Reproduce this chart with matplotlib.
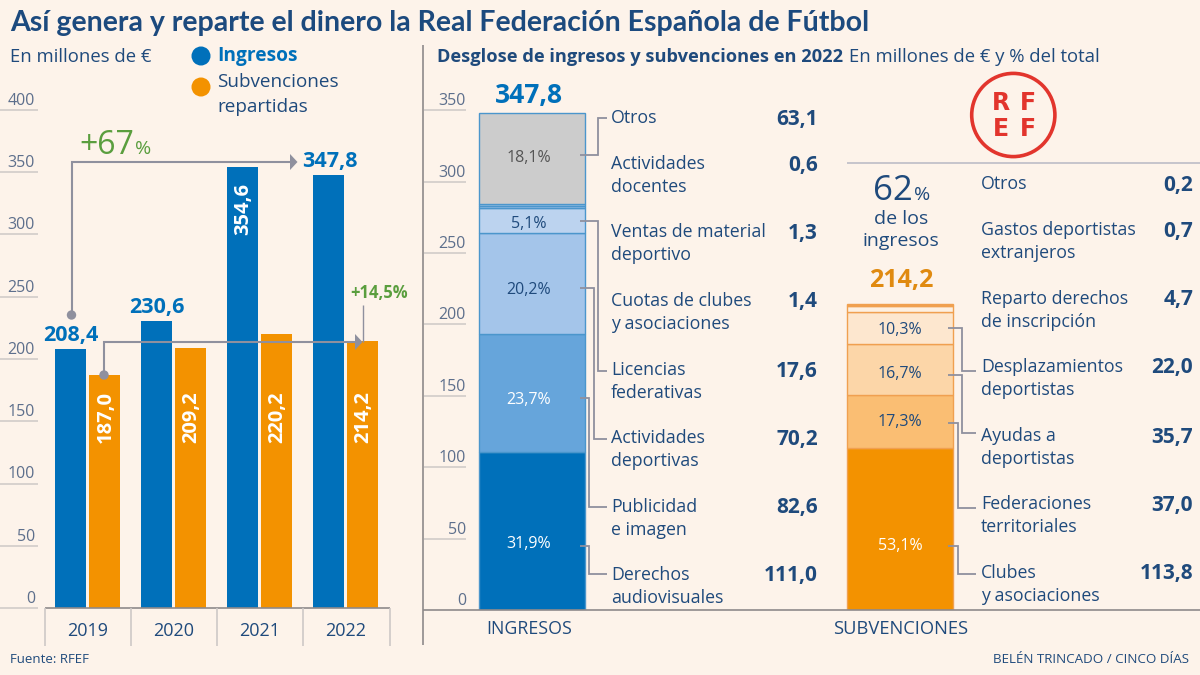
import matplotlib
matplotlib.use("Agg")
import matplotlib.pyplot as plt
from matplotlib.patches import Circle, Polygon
import numpy as np

plt.rcParams["font.family"] = ["Open Sans", "DejaVu Sans"]

# data
years = ["2019", "2020", "2021", "2022"]
ingresos = [208.4, 230.6, 354.6, 347.8]
subvenciones = [187.0, 209.2, 220.2, 214.2]
left_ticks = [0, 50, 100, 150, 200, 250, 300, 350, 400]
stack_ticks = [0, 50, 100, 150, 200, 250, 300, 350]

ing_names = ["Derechos\naudiovisuales", "Publicidad\ne imagen", "Actividades\ndeportivas",
             "Licencias\nfederativas", "Cuotas de clubes\ny asociaciones",
             "Ventas de material\ndeportivo", "Actividades\ndocentes", "Otros"]
ing_values = [111.0, 82.6, 70.2, 17.6, 1.4, 1.3, 0.6, 63.1]
ing_pct = ["31,9%", "23,7%", "20,2%", "5,1%", "18,1%"]

sub_names = ["Clubes\ny asociaciones", "Federaciones\nterritoriales", "Ayudas a\ndeportistas",
             "Desplazamientos\ndeportistas", "Reparto derechos\nde inscripción",
             "Gastos deportistas\nextranjeros", "Otros"]
sub_values = [113.8, 37.0, 35.7, 22.0, 4.7, 0.7, 0.2]
sub_pct = ["53,1%", "17,3%", "16,7%", "10,3%"]

# colours
BG = "#fdf3ea"
BLUE = "#0070ba"
ORANGE = "#f39200"
NAVY = "#1f4a7c"
TICK = "#5d6f8c"
GRID = "#cdc8c6"
ARROW = "#8f909e"
GREEN = "#5a9e3e"
RED = "#e2352d"
ing_colors = ["#0070ba", "#66a5db", "#a4c5ea", "#bcd3ef", "#a4c5ea", "#bcd3ef", "#a4c5ea", "#cccccc"]
sub_colors = ["#f39200", "#fabe73", "#fcd6a8", "#fde7cf", "#fdf0e2", "#fde7cf", "#fdf0e2"]

W, H = 1200, 675
L_ZERO, L_SCALE = 608.0, 1.245
S_ZERO, S_SCALE = 610.0, 1.4276

fig = plt.figure(figsize=(12, 6.75), dpi=100, facecolor=BG)


def px_axes(x0, x1, y_top, y_bottom):
    ax = fig.add_axes([x0 / W, 1 - y_bottom / H, (x1 - x0) / W, (y_bottom - y_top) / H])
    ax.axis("off")
    return ax


# yearly bars, one x unit is one year group (86 px)
ax = px_axes(0, 420, 100, L_ZERO)
ax.set_xlim(-87.5 / 86, (420 - 87.5) / 86)
ax.set_ylim(0, (L_ZERO - 100) / L_SCALE)
x = np.arange(len(years))
ax.bar(x - 0.198, ingresos, width=0.365, color=BLUE)
ax.bar(x + 0.198, subvenciones, width=0.365, color=ORANGE)

# stacked bars, one x unit is the gap between the two stacks (368 px)
ax2 = px_axes(424, 1200, 60, S_ZERO)
ax2.set_xlim((424 - 532) / 368, (1200 - 532) / 368)
ax2.set_ylim(0, (S_ZERO - 60) / S_SCALE)
for pos, vals, cols, edge in [(0, ing_values, ing_colors, "#4b96cc"),
                              (1, sub_values, sub_colors, "#f0a050")]:
    ax2.bar(pos, vals, bottom=np.cumsum([0] + vals[:-1]), width=106 / 368,
            color=cols, edgecolor=edge, linewidth=1)

# overlay in pixel coordinates for labels and leader lines
ov = fig.add_axes([0, 0, 1, 1], facecolor="none")
ov.set_xlim(0, W)
ov.set_ylim(H, 0)
ov.axis("off")


def txt(x, y, s, size=13.5, color=NAVY, ha="left", weight="normal", **kw):
    # va=center sits a bit high on this font
    return ov.text(x, y + 1.5, s, fontsize=size, color=color, ha=ha, va="center", fontweight=weight, **kw)


def block(x, y, s, size=12.8, gap=23):
    for i, row in enumerate(s.split("\n")):
        ov.text(x, y + 6 + gap * i, row, fontsize=size, color=NAVY, va="baseline")


def line(xs, ys, color=ARROW, lw=1.3):
    ov.plot(xs, ys, color=color, lw=lw, solid_joinstyle="miter", solid_capstyle="butt")


# header
txt(10, 21, "Así genera y reparte el dinero la Real Federación Española de Fútbol", size=20.5,
    weight="bold", color="#1c4a7e", family=["Lato", "DejaVu Sans"])
txt(10, 55, "En millones de €", size=13.3)
ov.add_patch(Circle((201, 56), 9.5, color=BLUE, lw=0))
ov.add_patch(Circle((201, 87), 9.5, color=ORANGE, lw=0))
txt(217, 55, "Ingresos", size=13.8, weight="bold", color=BLUE)
block(217, 81, "Subvenciones\nrepartidas", size=13.6, gap=25)
txt(437, 55, "Desglose de ingresos y subvenciones en 2022", size=13.15, weight="bold")
txt(849, 55, "En millones de € y % del total", size=13.3)

# frame lines
line([423, 423], [45, 645], color="#8e8a8a", lw=1.2)
line([423, 1200], [S_ZERO, S_ZERO], color="#8e8a8a", lw=1.2)
line([45, 389.5], [L_ZERO, L_ZERO], color="#8e8a8a", lw=1.2)
for i in range(len(years) + 1):
    tx = 44.8 + 86.2 * i
    line([tx, tx], [L_ZERO, 645.5], color=GRID, lw=1.2)
for i, yr in enumerate(years):
    txt(87.5 + 86 * i, 630, yr, size=13, ha="center")
txt(529, 628, "INGRESOS", size=12.8, ha="center")
txt(901, 628, "SUBVENCIONES", size=13.2, ha="center")

# y scales, labels sit on top of the rule
for v in left_ticks:
    yy = L_ZERO - v * L_SCALE
    line([0, 37.5], [yy, yy], color=GRID, lw=1.1)
    txt(35, yy - 10.5, str(v), size=11.5, color=TICK, ha="right")
for v in stack_ticks:
    yy = S_ZERO - v * S_SCALE
    if v > 0:
        line([424, 466], [yy, yy], color=GRID, lw=1.1)
    txt(466, yy - 10.5, str(v), size=11.5, color=TICK, ha="right")

# bar values
txt(71, 334, "208,4", size=15.5, weight="bold", color=BLUE, ha="center")
txt(157, 306, "230,6", size=15.5, weight="bold", color=BLUE, ha="center")
txt(330, 160, "347,8", size=15.5, weight="bold", color=BLUE, ha="center")
txt(243, 207.5, "354,6", size=14.5, weight="bold", color="white", ha="center", rotation=90)
for i, v in enumerate(subvenciones):
    txt(105.5 + 86 * i, 415.5, f"{v:.1f}".replace(".", ","), size=14.5, weight="bold", color="white",
        ha="center", rotation=90)

# growth arrows
line([71.5, 71.5, 291], [315, 162, 162], lw=1.5)
ov.add_patch(Polygon([[290, 154], [297.5, 162], [290, 170]], color=ARROW, lw=0))
ov.add_patch(Circle((71.5, 315), 4.7, color=ARROW, lw=0))
line([104, 104, 356], [375, 342, 342], lw=1.5)
ov.add_patch(Polygon([[355, 334], [362.5, 342], [355, 350]], color=ARROW, lw=0))
ov.add_patch(Circle((104, 375), 4.7, color=ARROW, lw=0))
line([362.7, 362.7], [305, 342], lw=1)
txt(134, 143.5, "+67", size=23, color=GREEN, ha="right")
txt(135, 147, "%", size=14, color=GREEN)
txt(379, 292, "+14,5%", size=12, weight="bold", color=GREEN, ha="center")

# stack totals and side block
txt(529, 94, "347,8", size=19, weight="bold", color=BLUE, ha="center")
txt(901, 279, "214,2", size=18, weight="bold", color="#e08a10", ha="center")
txt(913, 190, "62", size=25, ha="right")
txt(914, 194, "%", size=14)
txt(901, 218, "de los", size=14, ha="center")
txt(901, 240, "ingresos", size=14, ha="center")
line([847, 1200], [163, 163], color="#bdbcc6", lw=1.2)

# logo
ov.add_patch(Circle((1013.3, 115), 41.6, fill=False, edgecolor=RED, lw=2.6))
for lx, ly, ch in [(1001, 102, "R"), (1028, 102, "F"), (1001, 127, "E"), (1028, 127, "F")]:
    txt(lx, ly, ch, size=17, weight="bold", color=RED, ha="center", family=["DejaVu Sans"])

# left column of the breakdown, bottom to top
ing_rows = [574, 506, 437, 369, 300, 231, 163, 117]
for name, val, row in zip(ing_names, ing_values, ing_rows):
    block(611, row, name)
    txt(818, row + 0.5, f"{val:.1f}".replace(".", ","), size=15, weight="bold", ha="right")
for pct, py, col in zip(ing_pct, [543, 399, 288, 222, 157],
                        ["white", "white", NAVY, NAVY, "#555555"]):
    txt(529, py, pct, size=11.5, color=col, ha="center")

# (leader start y, elbow x, target row)
for yy, ex, row in [(545.7, 589, 574), (398, 589, 507), (288, 593.6, 439), (221, 597.7, 371), (155, 597.7, 118)]:
    line([580, ex, ex, 607], [yy, yy, row, row])

sub_rows = [572, 503, 435, 366, 298, 229, 183]
for name, val, row in zip(sub_names, sub_values, sub_rows):
    block(981, row, name)
    txt(1193, row + 0.5, f"{val:.1f}".replace(".", ","), size=15, weight="bold", ha="right")
for pct, py, col in zip(sub_pct, [544, 421, 372, 328], ["white", NAVY, NAVY, NAVY]):
    txt(900, py, pct, size=11.5, color=col, ha="center")

for yy, ex, row in [(546, 957.7, 574), (422.7, 957.7, 508), (375, 961.7, 433), (328, 961.7, 371)]:
    line([948, ex, ex, 976], [yy, yy, row, row])

# footer
txt(10, 658, "Fuente: RFEF", size=9.5)
txt(1189, 658, "BELÉN TRINCADO / CINCO DÍAS", size=9.6, ha="right")

fig.savefig("out.png", dpi=100, facecolor=BG)
